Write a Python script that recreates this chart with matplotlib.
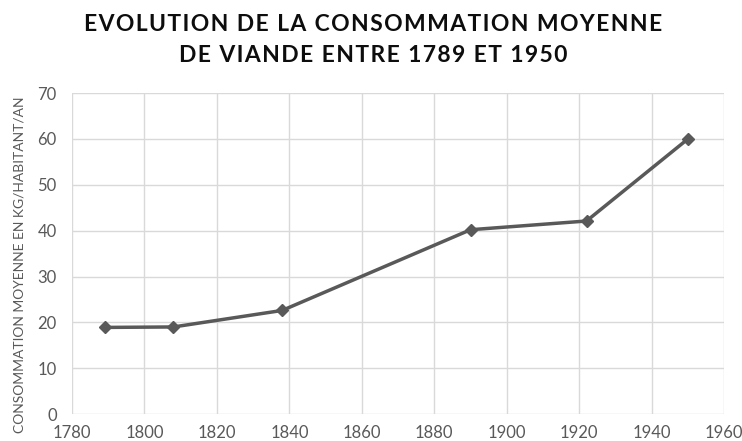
import matplotlib.pyplot as plt

# Data
years = [1789, 1808, 1838, 1890, 1922, 1950]
conso = [18.9, 19.0, 22.6, 40.2, 42.1, 60.0]
xticks = [1780, 1800, 1820, 1840, 1860, 1880, 1900, 1920, 1940, 1960]
yticks = [0, 10, 20, 30, 40, 50, 60, 70]

TEXT_GREY = '#595959'
GRID_GREY = '#d9d9d9'

plt.rcParams['font.family'] = ['Lato', 'DejaVu Sans']


def spaced(s):
  # a little letter spacing, like the original title
  return '\u200a'.join(s).replace('\u200a \u200a', ' \u2009')


fig = plt.figure(figsize=(7.42, 4.41), dpi=100)
ax = fig.add_axes([0.097, 0.061, 0.879, 0.728])

ax.plot(years, conso, color=TEXT_GREY, linewidth=2.5, marker='D', markersize=6.5,
        markerfacecolor=TEXT_GREY, markeredgecolor=TEXT_GREY)

ax.set_xlim(1780, 1960)
ax.set_ylim(0, 70)
ax.set_xticks(xticks)
ax.set_yticks(yticks)
ax.grid(True, color=GRID_GREY, linewidth=1)
ax.set_axisbelow(True)
for side in ['top', 'right', 'bottom', 'left']:
  ax.spines[side].set_visible(False)
ax.tick_params(length=0, labelsize=12, labelcolor=TEXT_GREY)
ax.tick_params(axis='x', pad=8)
ax.tick_params(axis='y', pad=11)

ax.set_ylabel('CONSOMMATION MOYENNE EN KG/HABITANT/AN', fontsize=10, color=TEXT_GREY)
ax.yaxis.set_label_coords(-0.071, 0.464)

fig.text(0.503, 0.945, spaced('EVOLUTION DE LA CONSOMMATION MOYENNE'),
         ha='center', va='center', fontsize=16.5, fontweight='bold', color='#0d0d0d')
fig.text(0.503, 0.874, spaced('DE VIANDE ENTRE 1789 ET 1950'),
         ha='center', va='center', fontsize=16.5, fontweight='bold', color='#0d0d0d')

fig.savefig('out.png', dpi=100)
